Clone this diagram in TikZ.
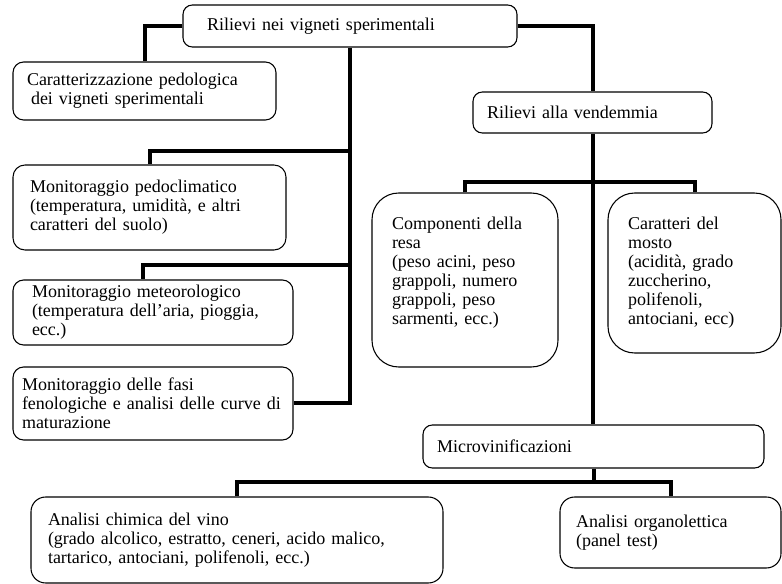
\documentclass[tikz,border=0pt]{standalone}
\usepackage{fontspec}
\setmainfont{Liberation Serif}
\usepackage{tikz}
\usetikzlibrary{positioning,calc}

\begin{document}
\begin{tikzpicture}[x=0.75pt, y=-0.75pt,
    box/.style={draw, line width=0.8pt, align=left, inner ysep=0pt, font=\fontsize{13.5}{14.3}\selectfont},
    link/.style={line width=3pt, line join=miter}]

\useasboundingbox (0,0) rectangle (782,584);

% Top box
\node[box, rounded corners=7pt, minimum width=250.5pt, minimum height=31.5pt, inner xsep=18pt, text width=214.5pt] (vigneti) at (350,26) {Rilievi nei vigneti sperimentali};

% LEFT COLUMN: rilievi in vigneto
\node[box, rounded corners=8pt, minimum width=197.25pt, minimum height=43.5pt, inner xsep=10.5pt, text width=176.25pt] (pedologia) at (144.5,91) {Caratterizzazione pedologica\\\hspace{3pt}dei vigneti sperimentali};
\node[box, rounded corners=9pt, minimum width=204.75pt, minimum height=63.75pt, inner xsep=12.75pt, text width=179.25pt] (pedoclima) at (149.5,207.5) {Monitoraggio pedoclimatico\\(temperatura, umidità, e altri\\caratteri del suolo)};
\node[box, rounded corners=8pt, minimum width=210pt, minimum height=48.75pt, inner xsep=14.25pt, text width=181.5pt] (meteo) at (153,312.5) {Monitoraggio meteorologico\\(temperatura dell’aria, pioggia,\\ecc.)};
\node[box, rounded corners=8pt, minimum width=210pt, minimum height=54.75pt, inner xsep=6.75pt, text width=196.5pt] (fenologia) at (153,403.5) {Monitoraggio delle fasi\\fenologiche e analisi delle curve di\\maturazione};

% RIGHT COLUMN: vendemmia
\node[box, rounded corners=7pt, minimum width=179.25pt, minimum height=30.75pt, inner xsep=10.5pt, text width=158.25pt] (vendemmia) at (592.5,112.5) {Rilievi alla vendemmia};
\node[box, rounded corners=20pt, minimum width=139.5pt, minimum height=130.5pt, inner xsep=15pt, text width=109.5pt] (resa) at (465,280) {Componenti della\\resa\\(peso acini, peso\\grappoli, numero\\grappoli, peso\\sarmenti, ecc.)\\\mbox{}};
\node[box, rounded corners=20pt, minimum width=129.75pt, minimum height=120pt, inner xsep=15pt, text width=99.75pt] (mosto) at (694.5,273) {Caratteri del\\mosto\\(acidità, grado\\zuccherino,\\polifenoli,\\antociani, ecc)};

% BOTTOM: vinificazione
\node[box, rounded corners=7pt, minimum width=255.75pt, minimum height=32.25pt, inner xsep=10.5pt, text width=234.75pt] (microvin) at (593.5,446.5) {Microvinificazioni};
\node[box, rounded corners=11pt, minimum width=309pt, minimum height=64.5pt, inner xsep=12.75pt, text width=283.5pt] (chimica) at (237,540) {Analisi chimica del vino\\(grado alcolico, estratto, ceneri, acido malico,\\tartarico, antociani, polifenoli, ecc.)};
\node[box, rounded corners=11pt, minimum width=165.75pt, minimum height=53.25pt, inner xsep=12pt, text width=141.75pt] (sensoriale) at (670.5,532.5) {Analisi organolettica\\(panel test)};

% Junctions
\coordinate (jpedo) at (350,151);
\coordinate (jmeteo) at (350,265);
\coordinate (jvend) at (592.5,182);
\coordinate (jmicro) at (593.5,482);

% Connectors
\draw[link] (vigneti.west) -| (pedologia.north);
\draw[link] (vigneti.south) |- (fenologia.east);
\draw[link] (jpedo) -| (pedoclima.north);
\draw[link] (jmeteo) -| ([xshift=-7.5pt]meteo.north);
\draw[link] (vigneti.east) -| (vendemmia.north);
\draw[link] (vendemmia.south) -- (vendemmia.south |- microvin.north);
\draw[link] (resa.north) |- (jvend) -| (mosto.north);
\draw[link] (microvin.south) -- (jmicro);
\draw[link] (chimica.north) |- (jmicro) -| (sensoriale.north);

\end{tikzpicture}
\end{document}
